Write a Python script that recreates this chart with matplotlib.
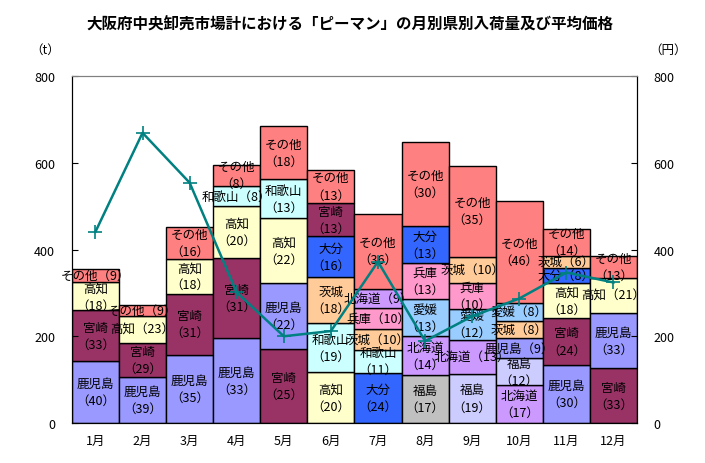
import matplotlib
matplotlib.use("Agg")
import matplotlib.pyplot as plt

plt.rcParams['font.family'] = ['Noto Sans CJK JP', 'DejaVu Sans']

months = ['1月', '2月', '3月', '4月', '5月', '6月', '7月', '8月', '9月', '10月', '11月', '12月']
# monthly arrivals (t) and average price (円)
totals = [356, 271, 451, 595, 685, 584, 483, 648, 593, 513, 448, 384]
prices = [441, 669, 554, 301, 200, 212, 372, 189, 246, 287, 347, 324]

# prefectures per month, bottom to top, with share (%)
pref_names = [
    ['鹿児島', '宮崎', '高知', 'その他'],
    ['鹿児島', '宮崎', '高知', 'その他'],
    ['鹿児島', '宮崎', '高知', 'その他'],
    ['鹿児島', '宮崎', '高知', '和歌山', 'その他'],
    ['宮崎', '鹿児島', '高知', '和歌山', 'その他'],
    ['高知', '和歌山', '茨城', '大分', '宮崎', 'その他'],
    ['大分', '和歌山', '茨城', '兵庫', '北海道', 'その他'],
    ['福島', '北海道', '愛媛', '兵庫', '大分', 'その他'],
    ['福島', '北海道', '愛媛', '兵庫', '茨城', 'その他'],
    ['北海道', '福島', '鹿児島', '茨城', '愛媛', 'その他'],
    ['鹿児島', '宮崎', '高知', '大分', '茨城', 'その他'],
    ['宮崎', '鹿児島', '高知', 'その他'],
]
pref_shares = [
    [40, 33, 18, 9],
    [39, 29, 23, 9],
    [35, 31, 18, 16],
    [33, 31, 20, 8, 8],
    [25, 22, 22, 13, 18],
    [20, 19, 18, 16, 13, 13],
    [24, 11, 10, 10, 9, 36],
    [17, 14, 13, 13, 13, 30],
    [19, 13, 12, 10, 10, 35],
    [17, 12, 9, 8, 8, 46],
    [30, 24, 18, 8, 6, 14],
    [33, 33, 21, 13],
]

colors = {
    '鹿児島': '#9999FF', '宮崎': '#993366', '高知': '#FFFFCC', 'その他': '#FF8080',
    '和歌山': '#CCFFFF', '茨城': '#FFCC99', '大分': '#3366FF', '北海道': '#CC99FF',
    '兵庫': '#FF99CC', '愛媛': '#99CCFF', '福島': '#CCCCFF',
}
color_override = {(7, '福島'): '#C0C0C0'}

# labels written on one line
one_line = {(0, 'その他'), (1, 'その他'), (1, '高知'), (3, '和歌山'), (6, '北海道'),
            (6, '兵庫'), (6, '茨城'), (8, '茨城'), (8, '北海道'), (9, '鹿児島'),
            (9, '茨城'), (9, '愛媛'), (10, '大分'), (10, '茨城'), (11, '高知')}

fig = plt.figure(figsize=(7.05, 4.64), dpi=100)
ax = fig.add_axes([0.102, 0.0862, 0.8015, 0.7478])

labels = []
for i, (names, shares) in enumerate(zip(pref_names, pref_shares)):
    bottom = 0
    s = sum(shares)
    for name, pct in zip(names, shares):
        h = totals[i] * pct / s
        c = color_override.get((i, name), colors[name])
        ax.bar(i, h, bottom=bottom, width=1.0, color=c, edgecolor='black', linewidth=1.0)
        if (i, name) in one_line:
            txt = f'{name}（{pct}）'
        else:
            txt = f'{name}\n（{pct}）'
        labels.append((i, bottom + h / 2, txt))
        bottom += h

for x, y, txt in labels:
    ax.text(x, y, txt, ha='center', va='center', fontsize=9, linespacing=1.4, zorder=5)

ax.set_xlim(-0.5, 11.5)
ax.set_ylim(0, 800)
ax.set_yticks([0, 200, 400, 600, 800])
ax.set_xticks(range(12))
ax.set_xticklabels(months, fontsize=9)
ax.tick_params(axis='x', length=0, pad=8)
ax.tick_params(axis='y', direction='in', length=4, labelsize=9, pad=12)
ax.spines['top'].set_color('#808080')

ax2 = ax.twinx()
ax2.plot(range(12), prices, color='#008080', linewidth=1.8, marker='+',
         markersize=10, markeredgewidth=1.2)
ax2.set_ylim(0, 800)
ax2.set_yticks([0, 200, 400, 600, 800])
ax2.tick_params(axis='y', direction='in', length=4, labelsize=9, pad=12)
ax2.spines['top'].set_color('#808080')

fig.text(0.497, 0.946, '大阪府中央卸売市場計における「ピーマン」の月別県別入荷量及び平均価格',
         ha='center', va='center', fontsize=11.2, fontweight='bold')
fig.text(0.064, 0.892, '（t）', ha='center', va='center', fontsize=9)
fig.text(0.947, 0.892, '（円）', ha='center', va='center', fontsize=9)

fig.savefig('out.png', dpi=100)
